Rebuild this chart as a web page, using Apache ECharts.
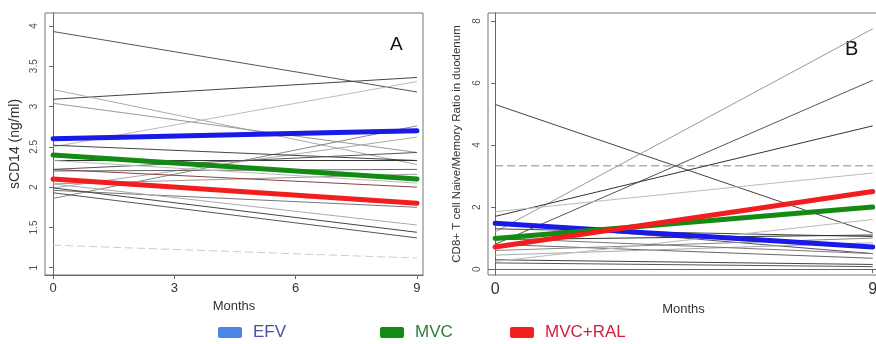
<!DOCTYPE html>
<html><head><meta charset="utf-8">
<script src="https://cdn.jsdelivr.net/npm/echarts@6/dist/echarts.min.js"></script>
<style>html,body{margin:0;padding:0;background:#fff}#c{width:876px;height:344px}</style>
</head><body><div id="c"></div>
<script>
// ---- data ----
const months = [0, 9];
const xTicksA = [0, 3, 6, 9];
const xTicksB = [0, 9];
const yTicksA = [1, 1.5, 2, 2.5, 3, 3.5, 4];
const yTicksB = [0, 2, 4, 6, 8];
const groups = ['EFV', 'MVC', 'MVC+RAL'];
// panel A: sCD14 (ng/ml), group mean lines [month0, month9]
const meanA_EFV = [2.6, 2.7];
const meanA_MVC = [2.4, 2.1];
const meanA_RAL = [2.1, 1.8];
// panel A individual patients
const indivA_start = [3.93, 3.09, 3.21, 3.04, 2.50, 1.86, 1.99, 2.52, 2.33, 2.22, 2.20, 2.04, 1.96, 1.99, 1.93, 2.22, 2.04, 1.28, 2.33];
const indivA_end   = [3.18, 3.36, 2.28, 2.43, 3.31, 2.76, 2.62, 2.33, 2.33, 2.43, 2.22, 2.16, 1.75, 1.44, 1.37, 2.00, 1.53, 1.12, 2.05];
// panel B: CD8+ naive/memory ratio
const meanB_EFV = [1.48, 0.71];
const meanB_MVC = [0.99, 2.0];
const meanB_RAL = [0.71, 2.5];
const indivB_start = [5.31, 3.33, 1.20, 0.80, 1.70, 1.85, 1.50, 1.30, 0.95, 0.80, 0.60, 0.30, 0.20, 0.45, 0.25, 1.00];
const indivB_end   = [1.16, 3.33, 7.75, 6.09, 4.62, 3.10, 0.50, 1.05, 1.10, 0.35, 1.00, 0.15, 0.08, 0.85, 1.60, 0.50];

// ---- styles ----
const shadesA = ['#555','#444','#aaa','#999','#bbb','#888','#aaa','#444','#333','#555','#666','#999','#777','#444','#555','#844','#aaa','#ccc','#bbb'];
const dashedA = [17];
const shadesB = ['#444','#888','#999','#555','#333','#bbb','#555','#444','#333','#666','#888','#444','#555','#aaa','#bbb','#777'];
const dashedB = [1];
const meanColors = ['#1a1ae6', '#138a13', '#f01e1e'];
const legendSwatch = ['#4a86e8', '#138a13', '#f22020'];
const legendText = ['#4b4fa6', '#2e7d32', '#d0213c'];

const chart = echarts.init(document.getElementById('c'), null, {renderer: 'canvas'});

function pts(a) { return months.map((m, i) => [m, a[i]]); }

function xAxis(gi) {
  const ticks = gi === 0 ? xTicksA : xTicksB;
  return {
    type: 'value', gridIndex: gi, min: gi === 0 ? -0.2 : -0.17, max: 9.15,
    name: 'Months', nameLocation: 'middle', nameGap: gi === 0 ? 21 : 27,
    nameTextStyle: {fontSize: 13, color: '#333', fontFamily: 'Liberation Sans Narrow, Liberation Sans, sans-serif'},
    axisLine: {show: true, lineStyle: {color: '#666'}},
    axisTick: {show: true, length: 4, inside: false, customValues: ticks, lineStyle: {color: '#666'}},
    axisLabel: {customValues: ticks, fontSize: gi === 0 ? 13 : 16, color: '#333', margin: 7,
      fontFamily: 'Liberation Sans Narrow, Liberation Sans, sans-serif'},
    splitLine: {show: false}
  };
}
function yAxis(gi) {
  const A = gi === 0;
  return {
    type: 'value', gridIndex: gi, min: A ? 0.91 : -0.19, max: A ? 4.16 : 8.26,
    name: A ? 'sCD14 (ng/ml)' : 'CD8+ T cell Naive/Memory Ratio in duodenum',
    nameLocation: 'middle', nameGap: A ? 23 : 25,
    nameTextStyle: {fontSize: A ? 14 : 11.5, color: '#333', fontFamily: 'Liberation Sans, sans-serif'},
    axisLine: {show: true, lineStyle: {color: '#666'}},
    axisTick: {show: true, length: 4, customValues: A ? yTicksA : yTicksB, lineStyle: {color: '#666'}},
    axisLabel: {customValues: A ? yTicksA : yTicksB, rotate: 90, fontSize: 10, color: '#555', margin: 6,
      fontFamily: 'Liberation Sans Narrow, Liberation Sans, sans-serif'},
    splitLine: {show: false}
  };
}

const series = [];
indivA_start.forEach((s, i) => {
  series.push({type: 'line', xAxisIndex: 0, yAxisIndex: 0, data: pts([s, indivA_end[i]]), symbol: 'none', silent: true,
    lineStyle: {width: 1, color: shadesA[i], type: dashedA.includes(i) ? [8, 4] : 'solid'}, z: 2});
});
indivB_start.forEach((s, i) => {
  series.push({type: 'line', xAxisIndex: 1, yAxisIndex: 1, data: pts([s, indivB_end[i]]), symbol: 'none', silent: true,
    lineStyle: {width: 1, color: shadesB[i], type: dashedB.includes(i) ? [8, 4] : 'solid'}, z: 2});
});
[meanA_EFV, meanA_MVC, meanA_RAL].forEach((d, i) => {
  series.push({type: 'line', name: groups[i], xAxisIndex: 0, yAxisIndex: 0, data: pts(d), symbol: 'none',
    lineStyle: {width: 5, color: meanColors[i], cap: 'round'}, z: 5});
});
[meanB_EFV, meanB_MVC, meanB_RAL].forEach((d, i) => {
  series.push({type: 'line', name: groups[i], xAxisIndex: 1, yAxisIndex: 1, data: pts(d), symbol: 'none',
    lineStyle: {width: 5, color: meanColors[i], cap: 'round'}, z: 5});
});

const legendX = [218, 380, 510];
const graphics = [];
groups.forEach((g, i) => {
  graphics.push({type: 'rect', left: legendX[i], top: 327, shape: {width: 24, height: 11, r: 2}, style: {fill: legendSwatch[i]}});
  graphics.push({type: 'text', left: legendX[i] + 35, top: 324, style: {text: g, fill: legendText[i], fontSize: 17,
    fontFamily: 'Liberation Sans Narrow, Liberation Sans, sans-serif'}});
});
graphics.push({type: 'text', left: 390, top: 35, style: {text: 'A', fontSize: 19, fill: '#111', fontFamily: 'Liberation Sans, sans-serif'}});
graphics.push({type: 'text', left: 845, top: 39, style: {text: 'B', fontSize: 20, fill: '#111', fontFamily: 'Liberation Sans, sans-serif'}});

chart.setOption({
  animation: false,
  backgroundColor: '#fff',
  grid: [
    {left: 45, top: 13, width: 378, height: 262, show: true, borderColor: '#777', borderWidth: 1, outerBoundsMode: 'none', containLabel: false},
    {left: 488, top: 13, width: 391, height: 262, show: true, borderColor: '#777', borderWidth: 1, outerBoundsMode: 'none', containLabel: false}
  ],
  xAxis: [xAxis(0), xAxis(1)],
  yAxis: [yAxis(0), yAxis(1)],
  series: series,
  graphic: graphics
});
</script></body></html>
